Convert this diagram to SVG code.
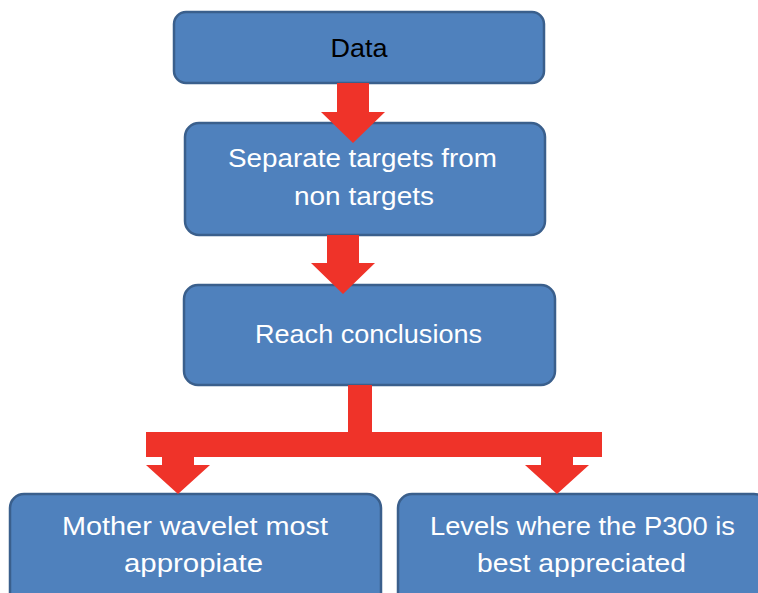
<svg xmlns="http://www.w3.org/2000/svg" width="758" height="593" viewBox="0 0 758 593">
  <style>
    .box { fill: #4F81BD; stroke: #3A5F8C; stroke-width: 2.5; }
    .lbl { font-family: "Liberation Sans", Arial, sans-serif; font-size: 26px; fill: #FFFFFF; text-anchor: middle; }
    .dark { fill: #000000; }
    .arrow { fill: #EF3329; }
  </style>
  <rect width="758" height="593" fill="#FFFFFF"/>

  <g id="node-data">
    <rect class="box" x="174" y="12" width="370" height="71" rx="12"/>
    <text class="lbl dark" x="359" y="57" textLength="57" lengthAdjust="spacingAndGlyphs">Data</text>
  </g>

  <g id="node-separate">
    <rect class="box" x="185" y="123" width="360" height="112" rx="14"/>
    <text class="lbl" x="362.5" y="167" textLength="269" lengthAdjust="spacingAndGlyphs">Separate targets from</text>
    <text class="lbl" x="364" y="205" textLength="140" lengthAdjust="spacingAndGlyphs">non targets</text>
  </g>

  <g id="node-conclusions">
    <rect class="box" x="184" y="285" width="371" height="100" rx="14"/>
    <text class="lbl" x="368.5" y="343" textLength="227" lengthAdjust="spacingAndGlyphs">Reach conclusions</text>
  </g>

  <g id="node-wavelet">
    <rect class="box" x="10" y="494" width="371" height="115" rx="14"/>
    <text class="lbl" x="195" y="535" textLength="266" lengthAdjust="spacingAndGlyphs">Mother wavelet most</text>
    <text class="lbl" x="193.5" y="572" textLength="139" lengthAdjust="spacingAndGlyphs">appropiate</text>
  </g>

  <g id="node-levels">
    <rect class="box" x="398" y="494" width="370" height="115" rx="14"/>
    <text class="lbl" x="582.5" y="535" textLength="305" lengthAdjust="spacingAndGlyphs">Levels where the P300 is</text>
    <text class="lbl" x="581.5" y="572" textLength="209" lengthAdjust="spacingAndGlyphs">best appreciated</text>
  </g>

  <g id="connectors">
    <path class="arrow" d="M337,83 H369 V112 H385 L353,143 L321,112 H337 Z"/>
    <path class="arrow" d="M327,235 H359 V263 H375 L343,294 L311,263 H327 Z"/>
    <path class="arrow" d="M348,385 H372 V432 H602 V457 H573 V465 H589 L557,494 L525,465 H541 V457 H194 V465 H210 L178,494 L146,465 H162 V457 H146 V432 H348 Z"/>
  </g>
</svg>
